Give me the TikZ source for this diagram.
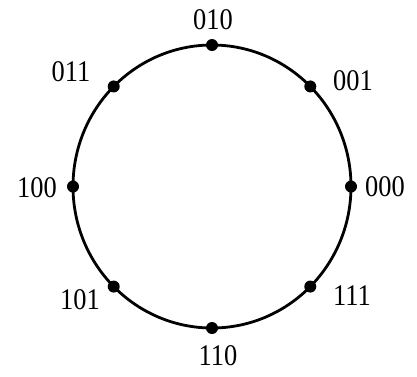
\documentclass[tikz,border=0pt]{standalone}
\usepackage{fontspec}
\setmainfont{Liberation Serif}
\begin{document}
\begin{tikzpicture}[x=1pt,y=-1pt,
  dot/.style={circle,fill=black,inner sep=0pt,minimum size=12pt},
  lbl/.style={inner sep=0pt,font=\fontsize{30}{30}\selectfont,xscale=0.88}]
\useasboundingbox (0,0) rectangle (417,376);
\coordinate (c) at (212,186.5);
\draw[line width=2.8pt] (c) ellipse[x radius=139,y radius=141.5];
\node[dot] (p010) at ([shift={(-90:139 and 141.5)}]c) {};
\node[dot] (p001) at ([shift={(-45:139 and 141.5)}]c) {};
\node[dot] (p000) at ([shift={(0:139 and 141.5)}]c) {};
\node[dot] (p111) at ([shift={(45:139 and 141.5)}]c) {};
\node[dot] (p110) at ([shift={(90:139 and 141.5)}]c) {};
\node[dot] (p101) at ([shift={(135:139 and 141.5)}]c) {};
\node[dot] (p100) at ([shift={(180:139 and 141.5)}]c) {};
\node[dot] (p011) at ([shift={(-135:139 and 141.5)}]c) {};
\node[lbl] (t010) at (213,20) {010};
\node[lbl] (t001) at (353,81) {001};
\node[lbl] (t000) at (385,187) {000};
\node[lbl] (t111) at (352,296) {111};
\node[lbl] (t110) at (218,356) {110};
\node[lbl] (t101) at (80,300) {101};
\node[lbl] (t100) at (37,188) {100};
\node[lbl] (t011) at (71,72) {011};
\end{tikzpicture}
\end{document}
